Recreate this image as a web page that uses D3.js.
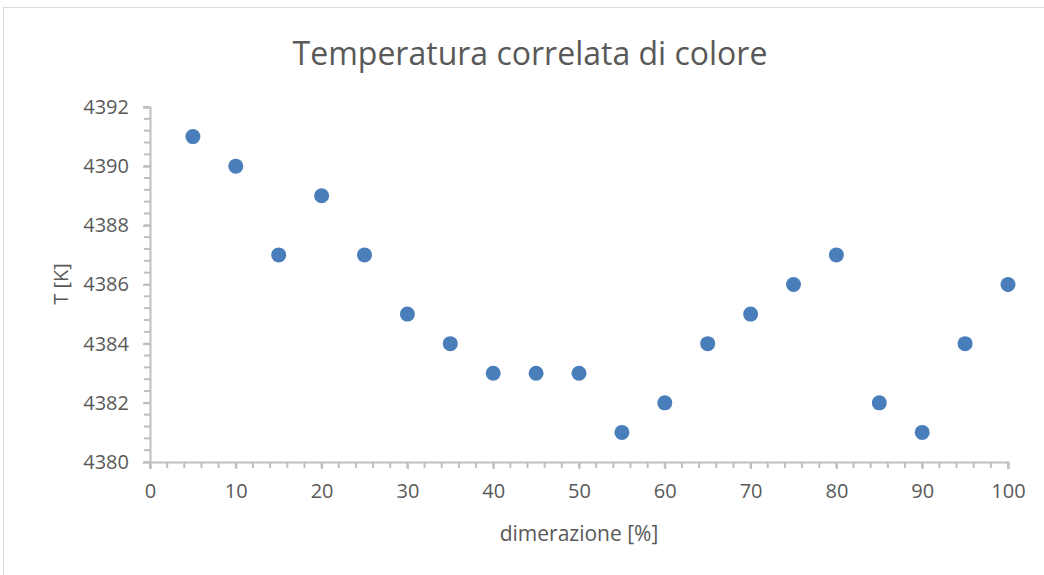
<!DOCTYPE html>
<html>
<head>
<meta charset="utf-8">
<script src="https://cdn.jsdelivr.net/npm/d3@7"></script>
<style>
  body { margin: 0; background: #fff; }
  text { font-family: "Open Sans", "Liberation Sans", sans-serif; fill: #595959; }
</style>
</head>
<body>
<svg width="1044" height="575"></svg>
<script>
// data
var dimerazione = [5, 10, 15, 20, 25, 30, 35, 40, 45, 50, 55, 60, 65, 70, 75, 80, 85, 90, 95, 100];
var temperatura = [4391, 4390, 4387, 4389, 4387, 4385, 4384, 4383, 4383, 4383, 4381, 4382, 4384, 4385, 4386, 4387, 4382, 4381, 4384, 4386];
var xTicks = [0, 10, 20, 30, 40, 50, 60, 70, 80, 90, 100];
var yTicks = [4380, 4382, 4384, 4386, 4388, 4390, 4392];

var svg = d3.select('svg');

// chart area frame
svg.append('rect')
   .attr('x', 3.5).attr('y', 7.5)
   .attr('width', 1100).attr('height', 600)
   .attr('fill', 'none')
   .attr('stroke', '#d9d9d9')
   .attr('stroke-width', 1);

var x = d3.scaleLinear().domain([0, 100]).range([150, 1008]);
var y = d3.scaleLinear().domain([4380, 4392]).range([462, 107]);

var axisColor = '#bfbfbf';

// minor ticks
var xMinor = d3.range(0, 100.01, 2);
svg.append('g').selectAll('line')
   .data(xMinor)
   .enter().append('line')
   .attr('x1', function(d){ return x(d); })
   .attr('x2', function(d){ return x(d); })
   .attr('y1', 462).attr('y2', 468)
   .attr('stroke', axisColor).attr('stroke-width', 2);

var yMinor = d3.range(4380, 4392.01, 0.4);
svg.append('g').selectAll('line')
   .data(yMinor)
   .enter().append('line')
   .attr('y1', function(d){ return y(d); })
   .attr('y2', function(d){ return y(d); })
   .attr('x1', 144).attr('x2', 150)
   .attr('stroke', axisColor).attr('stroke-width', 2);

// axes
var xAxis = svg.append('g')
   .attr('transform', 'translate(0,462)')
   .call(d3.axisBottom(x).tickValues(xTicks).tickSize(7).tickPadding(15));
var yAxis = svg.append('g')
   .attr('transform', 'translate(150,0)')
   .call(d3.axisLeft(y).tickValues(yTicks).tickFormat(d3.format('d')).tickSize(7).tickPadding(14));

[xAxis, yAxis].forEach(function(g){
  g.select('.domain').attr('stroke', axisColor).attr('stroke-width', 2);
  g.selectAll('.tick line').attr('stroke', axisColor).attr('stroke-width', 2);
  g.selectAll('.tick text')
   .attr('fill', '#595959')
   .style('font-family', '"Open Sans", "Liberation Sans", sans-serif')
   .style('font-size', '20px');
});

// points
svg.append('g').selectAll('circle')
   .data(dimerazione)
   .enter().append('circle')
   .attr('cx', function(d){ return x(d); })
   .attr('cy', function(d, i){ return y(temperatura[i]); })
   .attr('r', 7.5)
   .attr('fill', '#4a7ebb');

// title and axis labels
svg.append('text')
   .attr('x', 530).attr('y', 65)
   .attr('text-anchor', 'middle')
   .style('font-size', '32px')
   .text('Temperatura correlata di colore');

svg.append('text')
   .attr('x', 579).attr('y', 541)
   .attr('text-anchor', 'middle')
   .style('font-size', '21px')
   .text('dimerazione [%]');

svg.append('text')
   .attr('transform', 'translate(68,284) rotate(-90)')
   .attr('text-anchor', 'middle')
   .style('font-size', '20px')
   .text('T [K]');
</script>
</body>
</html>
